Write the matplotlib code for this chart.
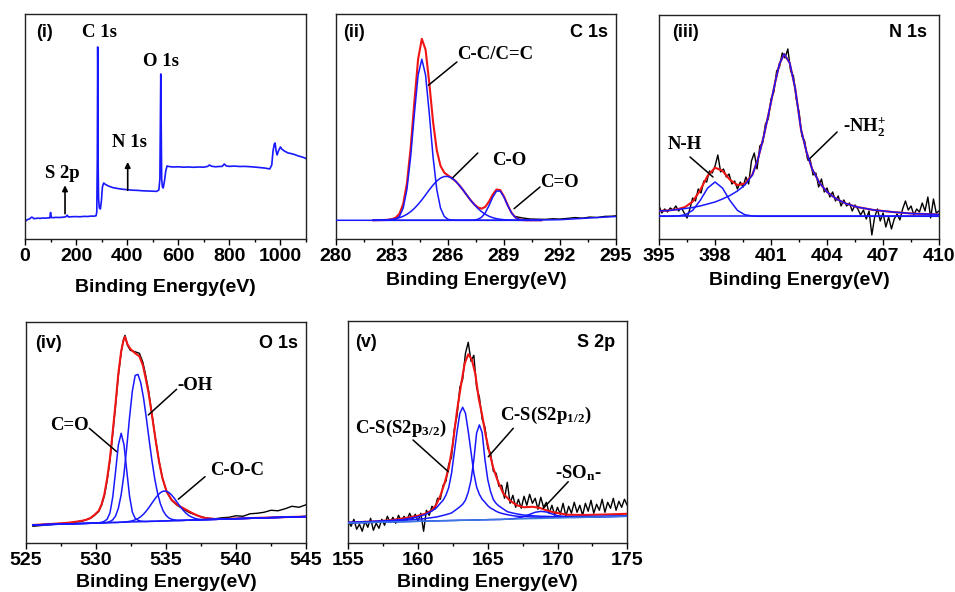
"""
XPS spectra of the sample: wide survey scan and the C 1s, N 1s, O 1s and
S 2p high-resolution regions with their fitted components.
Intensities are arbitrary units read off the published figure.
"""
import matplotlib
matplotlib.use("Agg")
import matplotlib.pyplot as plt
import numpy as np
from matplotlib.ticker import AutoMinorLocator

plt.rcParams["font.family"] = ["Liberation Sans", "DejaVu Sans"]
plt.rcParams["font.weight"] = "bold"
plt.rcParams["axes.labelweight"] = "bold"
plt.rcParams["mathtext.fontset"] = "custom"
plt.rcParams["mathtext.rm"] = "Liberation Serif:bold"
plt.rcParams["mathtext.it"] = "Liberation Serif:bold"
plt.rcParams["mathtext.bf"] = "Liberation Serif:bold"
plt.rcParams["mathtext.default"] = "rm"

# ---------------------------------------------------------------------------
# (i) survey
# ---------------------------------------------------------------------------
SURVEY_EV = [0, 5, 10, 15, 20, 25, 30, 35, 40, 50,
             60, 70, 80, 90, 97, 100, 103, 110, 120, 135,
             150, 160, 165, 170, 185, 200, 215, 230, 245, 260,
             270, 278, 281, 283, 284.5, 285.5, 286.5, 288, 291, 295,
             299, 303, 308, 315, 330, 345, 360, 380, 400, 420,
             440, 460, 480, 500, 515, 524, 528, 530, 531.5, 533,
             535, 538, 541, 546, 551, 556, 565, 580, 600, 620,
             640, 660, 680, 700, 715, 722, 730, 745, 760, 772,
             780, 788, 800, 820, 840, 860, 880, 900, 920, 940,
             958, 966, 971, 976, 979, 983, 987, 992, 1000, 1005,
             1015, 1030, 1040, 1055, 1070, 1085, 1100]
SURVEY_CPS = [17.5, 18.5, 19.5, 19.8, 20.5, 21.8, 21.5, 20.3, 20.5, 20.8,
              20.6, 21.0, 20.8, 21.2, 21.0, 26.5, 21.5, 21.3, 21.6, 21.5,
              21.8, 22.2, 23.8, 22.0, 22.3, 22.4, 22.2, 22.6, 22.5, 22.9,
              22.8, 23.2, 27.0, 80.0, 192.0, 150.0, 70.0, 40.0, 31.0, 30.0,
              38.0, 52.0, 56.0, 54.5, 52.6, 51.3, 50.6, 49.8, 49.3, 48.8,
              48.6, 48.2, 48.0, 47.8, 47.6, 49.0, 60.0, 120.0, 165.0, 120.0,
              60.0, 52.0, 51.0, 58.0, 68.0, 73.0, 72.4, 72.0, 72.2, 71.8,
              72.0, 71.7, 72.0, 71.8, 72.6, 74.0, 72.8, 72.2, 72.5, 72.6,
              75.0, 73.0, 72.6, 72.9, 72.5, 72.6, 72.3, 71.9, 71.4, 70.9,
              70.0, 74.0, 88.0, 95.0, 96.0, 88.0, 84.0, 88.0, 92.0, 90.0,
              88.0, 86.0, 85.5, 84.5, 83.0, 82.0, 80.5]
SURVEY_TICKS = [0, 200, 400, 600, 800, 1000]

# ---------------------------------------------------------------------------
# (ii) C 1s
# ---------------------------------------------------------------------------
C1S_BASE = 18.7
C1S_BASE_EV = [280.0, 290.0, 292.0, 295.0]
C1S_BASE_CPS = [18.7, 18.7, 19.3, 22.5]
C1S_EV = [282.0, 282.2, 282.4, 282.6, 282.8, 283.0, 283.2, 283.4, 283.6, 283.8,
          284.0, 284.2, 284.4, 284.6, 284.8, 285.0, 285.2, 285.4, 285.6, 285.8,
          286.0, 286.2, 286.4, 286.6, 286.8, 287.0, 287.2, 287.4, 287.6, 287.8,
          288.0, 288.2, 288.4, 288.6, 288.8, 289.0, 289.2, 289.4, 289.6, 289.8,
          290.0, 290.2, 290.4, 290.6, 290.8, 291.0]
C1S_CC = [0, 0, 0, 0, 0, 0.2, 1.0, 3.9, 12.2, 30.8,
          63.5, 106.5, 145.2, 161.0, 145.2, 106.5, 63.5, 30.8, 12.2, 3.9,
          1.0, 0.2, 0, 0, 0, 0, 0, 0, 0, 0,
          0, 0, 0, 0, 0, 0, 0, 0, 0, 0,
          0, 0, 0, 0, 0, 0]
C1S_CO = [0.0, 0.1, 0.2, 0.3, 0.6, 1.0, 1.6, 2.6, 4.0, 6.0,
          8.6, 11.9, 15.9, 20.4, 25.4, 30.5, 35.2, 39.3, 42.2, 43.8,
          43.8, 42.2, 39.3, 35.2, 30.5, 25.4, 20.4, 15.9, 11.9, 8.6,
          6.0, 4.0, 2.6, 1.6, 1.0, 0.6, 0.3, 0.2, 0.1, 0,
          0, 0, 0, 0, 0, 0]
C1S_CDO = [0, 0, 0, 0, 0, 0, 0, 0, 0, 0,
           0, 0, 0, 0, 0, 0, 0, 0, 0, 0,
           0, 0, 0, 0, 0, 0, 0, 0.2, 1.0, 3.0,
           7.5, 14.8, 23.2, 29.2, 29.2, 23.2, 14.8, 7.5, 3.0, 1.0,
           0.2, 0, 0, 0, 0, 0]
C1S_RAW_EV = [289.6, 290.0, 290.4, 290.8, 291.2, 291.6, 292.0, 292.4, 292.8, 293.2,
              293.6, 294.0, 294.4, 294.8, 295.0]
C1S_RAW_CPS = [22.5, 21.0, 20.0, 19.8, 19.6, 20.2, 19.9, 20.6, 21.4, 20.8,
               21.9, 21.5, 22.6, 22.8, 23.2]
C1S_TICKS = [280, 283, 286, 289, 292, 295]

# ---------------------------------------------------------------------------
# (iii) N 1s
# ---------------------------------------------------------------------------
N1S_BASE = 22.7
N1S_EV = [395.0, 395.5, 396.0, 396.4, 396.8, 397.2, 397.6, 398.0, 398.4, 398.8,
          399.2, 399.6, 400.0, 400.3, 400.6, 400.9, 401.2, 401.45, 401.7, 402.0,
          402.3, 402.6, 402.9, 403.2, 403.6, 404.0, 404.5, 405.0, 405.6, 406.5,
          407.5, 408.5, 410.0]
N1S_NH2 = [5.3, 5.8, 6.8, 7.8, 8.8, 10.3, 12.3, 14.3, 17.3, 20.8,
           25.3, 31.3, 41.3, 57.3, 79.3, 105.3, 132.3, 152.3, 162.3, 153.3,
           127.3, 87.3, 64.3, 47.3, 33.3, 24.3, 17.3, 12.8, 9.3, 6.3,
           4.3, 2.8, 1.8]
N1S_NH = [0, 0, 0.3, 1.5, 5.9, 15.7, 28.2, 34.3, 28.2, 15.7,
          5.9, 1.5, 0.3, 0, 0, 0, 0, 0, 0, 0,
          0, 0, 0, 0, 0, 0, 0, 0, 0, 0,
          0, 0, 0]
N1S_RAW_START, N1S_RAW_STEP = 395.0, 0.15
N1S_RAW_CPS = [33, 26, 30, 27, 31, 29, 33, 28, 31, 26,
               21, 30, 41, 38, 50, 46, 58, 57, 68, 66,
               73, 84, 67, 70, 62, 65, 55, 58, 50, 57,
               52, 62, 55, 78, 86, 70, 93, 96, 115, 120,
               140, 147, 168, 172, 186, 181, 190, 168, 163, 140,
               127, 103, 98, 80, 79, 64, 66, 52, 60, 47,
               51, 42, 47, 38, 43, 33, 39, 33, 36, 28,
               34, 30, 24, 29, 20, 28, 4, 22, 30, 18,
               26, 12, 22, 10, 20, 25, 19, 30, 38, 29,
               33, 24, 30, 27, 36, 28, 42, 21, 40, 26,
               28]
N1S_TICKS = [395, 398, 401, 404, 407, 410]

# ---------------------------------------------------------------------------
# (iv) O 1s
# ---------------------------------------------------------------------------
O1S_EV = [525.5, 530.0, 530.2, 530.4, 530.6, 530.8, 531.0, 531.2, 531.4, 531.6,
          531.8, 532.0, 532.2, 532.4, 532.6, 532.8, 533.0, 533.2, 533.4, 533.6,
          533.8, 534.0, 534.2, 534.4, 534.6, 534.8, 535.0, 535.2, 535.4, 535.6,
          535.8, 536.0, 536.2, 536.4, 536.6, 536.8, 537.0, 537.2, 537.4, 537.6,
          537.8, 538.0, 538.2, 545.0]
O1S_BASE = [18.3, 20.2, 20.3, 20.4, 20.5, 20.6, 20.7, 20.8, 20.8, 20.9,
            21.0, 21.1, 21.2, 21.3, 21.4, 21.4, 21.5, 21.6, 21.7, 21.8,
            21.9, 22.0, 22.0, 22.1, 22.2, 22.3, 22.4, 22.5, 22.6, 22.7,
            22.7, 22.8, 22.9, 23.0, 23.1, 23.2, 23.3, 23.3, 23.4, 23.5,
            23.6, 23.7, 23.8, 26.7]
O1S_CDO = [0, 0, 0.2, 0.6, 1.5, 3.5, 9.7, 25.6, 51.1, 77.5,
           89.0, 77.5, 51.1, 25.6, 9.7, 3.5, 1.5, 0.6, 0.2, 0,
           0, 0, 0, 0, 0, 0, 0, 0, 0, 0,
           0, 0, 0, 0, 0, 0, 0, 0, 0, 0,
           0, 0, 0, 0]
O1S_OH = [0, 0, 0, 0, 0.1, 0.3, 1.0, 2.7, 6.5, 14.2,
          27.7, 48.2, 75.2, 104.9, 131.1, 146.4, 147.4, 138.9, 123.3, 103.1,
          81.3, 60.4, 42.3, 27.9, 17.3, 10.1, 5.6, 2.9, 1.4, 0.7,
          0.3, 0.1, 0, 0, 0, 0, 0, 0, 0, 0,
          0, 0, 0, 0]
O1S_COC = [0, 0, 0, 0, 0, 0, 0, 0, 0, 0,
           0.1, 0.2, 0.3, 0.6, 1.1, 2.0, 3.2, 5.0, 7.5, 10.6,
           14.2, 18.2, 22.2, 25.7, 28.4, 29.8, 29.8, 28.4, 25.7, 22.2,
           18.2, 14.2, 10.6, 7.5, 5.0, 3.2, 2.0, 1.1, 0.6, 0.3,
           0.2, 0.1, 0, 0]
O1S_FIT_EV = [525.5, 527.0, 528.0, 528.6, 529.0, 529.3, 529.6, 529.9, 530.2, 530.4,
              530.6, 530.8, 531.0, 531.2, 531.4, 531.6, 531.8, 531.95, 532.07, 532.25,
              532.45, 532.8, 533.1, 533.35, 533.55, 533.75, 534.0, 534.25, 534.5, 534.75,
              535.05, 535.4, 535.8, 536.25, 536.7, 537.2, 537.7, 538.5, 539.5, 541.0,
              543.0, 545.0]
O1S_FIT_CPS = [18.3, 19.5, 20.5, 21.6, 22.5, 23.5, 25.2, 28.5, 32.5, 39.0,
               49.0, 65.0, 85.0, 112.0, 140.0, 170.0, 192.0, 202.0, 206.6, 199.0,
               194.5, 190.0, 187.0, 178.0, 165.0, 151.0, 128.0, 104.0, 82.0, 65.0,
               51.6, 43.5, 38.5, 35.0, 31.5, 28.0, 25.5, 24.2, 24.5, 25.2,
               26.0, 26.7]
O1S_RAW_EV = [525.5, 527.0, 528.0, 528.6, 529.0, 529.3, 529.6, 529.9, 530.2, 530.4,
              530.6, 530.8, 531.0, 531.2, 531.4, 531.6, 531.8, 531.95, 532.07, 532.25,
              532.45, 532.8, 533.1, 533.35, 533.55, 533.75, 534.0, 534.25, 534.5, 534.75,
              535.05, 535.4, 535.8, 536.25, 536.7, 537.0, 537.5, 538.0, 538.5, 539.0,
              539.5, 540.0, 540.5, 541.0, 541.5, 542.0, 542.5, 543.0, 543.5, 544.0,
              544.5, 545.0]
O1S_RAW_CPS = [17.0, 19.0, 20.0, 21.5, 22.0, 23.5, 25.0, 28.0, 32.0, 38.0,
               47.5, 63.0, 83.0, 110.0, 138.0, 168.0, 191.0, 203.0, 208.0, 198.0,
               193.0, 191.5, 190.0, 181.0, 168.0, 153.0, 129.0, 104.5, 82.5, 65.0,
               51.5, 43.0, 38.0, 34.0, 30.5, 29.0, 26.5, 25.0, 24.5, 25.5,
               26.0, 27.5, 27.0, 29.5, 30.0, 31.0, 33.0, 32.5, 34.5, 37.0,
               36.0, 38.5]
O1S_TICKS = [525, 530, 535, 540, 545]

# ---------------------------------------------------------------------------
# (v) S 2p
# ---------------------------------------------------------------------------
S2P_EV = [155.0, 156.0, 157.0, 158.0, 159.0, 160.0, 160.5, 161.0, 161.3,
          161.6, 161.8, 162.0, 162.2, 162.4, 162.6, 162.8, 163.0, 163.2, 163.4,
          163.6, 163.8, 164.0, 164.2, 164.4, 164.6, 164.8, 165.0, 165.2, 165.4,
          165.6, 165.8, 166.0,
          166.4, 166.8, 167.2, 167.6, 168.0, 168.4, 168.8, 169.2, 169.6, 170.0,
          171.0, 172.0, 173.0, 174.0, 175.0]
S2P_BASE = [20.3, 20.6, 21.0, 21.3, 21.6, 22.0, 22.1, 22.3, 22.4,
            22.5, 22.6, 22.6, 22.7, 22.8, 22.8, 22.9, 23.0, 23.0, 23.1,
            23.1, 23.2, 23.3, 23.3, 23.4, 23.5, 23.5, 23.6, 23.7, 23.7,
            23.8, 23.8, 23.9,
            24.1, 24.2, 24.4, 24.5, 24.7, 24.8, 24.9, 25.1, 25.2, 25.3,
            25.7, 26.0, 26.3, 26.7, 27.0]
S2P_32 = [0.5, 0.7, 1.0, 1.4, 2.3, 4.5, 6.5, 10.0, 12.8,
          17.5, 20.5, 25.5, 33.0, 47.0, 68.0, 89.0, 107.0, 113.0, 107.0,
          89.0, 68.0, 47.0, 33.0, 25.5, 20.5, 17.5, 14.0, 11.5, 10.0,
          8.2, 7.0, 6.0,
          4.5, 3.4, 2.5, 2.2, 1.7, 1.4, 1.2, 1.0, 0.9, 0.8,
          0.5, 0.4, 0.3, 0.2, 0.2]
S2P_12 = [0.5, 0.6, 0.8, 1.0, 1.4, 2.1, 2.6, 3.4, 3.8,
          4.7, 5.3, 6.0, 6.7, 7.5, 9.5, 11.5, 13.5, 16.0, 20.0,
          28.0, 40.0, 60.0, 87.0, 95.0, 87.0, 60.0, 40.0, 28.0, 20.0,
          16.0, 13.5, 11.5,
          7.5, 6.0, 4.7, 3.7, 3.1, 2.5, 2.1, 1.8, 1.5, 1.3,
          1.0, 0.8, 0.6, 0.5, 0.4]
S2P_SON = [0, 0, 0, 0, 0, 0, 0, 0, 0,
           0, 0, 0, 0, 0, 0, 0, 0, 0, 0,
           0, 0, 0, 0, 0, 0, 0, 0, 0, 0,
           0, 0, 0,
           0, 0.3, 0.9, 2.3, 4.2, 6.2, 7.0, 6.2, 4.2, 2.3,
           0.2, 0, 0, 0, 0]
S2P_FIT_EV = [155.0, 156.0, 157.0, 158.0, 159.0, 160.0, 160.5, 161.0, 161.3, 161.6,
              161.9, 162.2, 162.5, 162.8, 163.1, 163.35, 163.6, 163.85, 164.1, 164.35,
              164.6, 164.85, 165.1, 165.4, 165.7, 166.1, 166.6, 167.1, 167.6, 168.2,
              168.7, 169.2, 169.7, 170.7, 172.0, 173.5, 175.0]
S2P_FIT_CPS = [20.6, 21.3, 22.0, 23.0, 25.0, 27.5, 29.5, 33.0, 38.5, 47.5,
               60.0, 75.0, 100.0, 133.0, 160.0, 180.0, 189.0, 184.0, 170.0, 145.0,
               128.0, 108.0, 92.0, 75.0, 63.0, 50.0, 42.5, 38.0, 36.0, 36.5,
               35.5, 33.0, 31.0, 28.5, 28.3, 28.8, 29.5]
S2P_RAW_START, S2P_RAW_STEP = 155.0, 0.2
S2P_RAW_CPS = [22, 17, 24, 14, 19, 12, 22, 16, 25, 13,
               20, 15, 24, 18, 27, 21, 26, 20, 28, 22,
               27, 23, 30, 24, 29, 22, 30, 12, 33, 28,
               37, 34, 45, 44, 58, 62, 79, 86, 114, 128,
               156, 164, 190, 201, 182, 188, 156, 146, 124, 116,
               95, 90, 72, 70, 57, 58, 45, 61, 40, 48,
               36, 44, 35, 47, 38, 49, 40, 45, 34, 46,
               36, 41, 30, 38, 28, 36, 29, 40, 27, 37,
               30, 41, 31, 38, 28, 40, 32, 43, 30, 39,
               33, 44, 31, 41, 35, 45, 33, 42, 36, 44,
               38]
S2P_TICKS = [155, 160, 165, 170, 175]

BLUE = "#1818ff"
RED = "#f01414"
SERIF = ["Liberation Serif", "DejaVu Serif"]


# ---------------------------------------------------------------------------
# helpers
# ---------------------------------------------------------------------------

def style_panel(ax, xlim, ticks, ymax, labelpad):
    ax.set_xlim(*xlim)
    ax.set_ylim(0, ymax)
    ax.set_xticks(ticks)
    ax.xaxis.set_minor_locator(AutoMinorLocator(2))
    ax.set_yticks([])
    ax.tick_params(axis="x", which="major", direction="out", length=4,
                   width=1, labelsize=14, pad=2.5)
    ax.tick_params(axis="x", which="minor", direction="out", length=2.5, width=1)
    ax.set_xlabel("Binding Energy(eV)", fontsize=14, labelpad=labelpad)
    for spine in ax.spines.values():
        spine.set_linewidth(1.0)
        spine.set_color("#222222")


def tag(ax, fx, fy, s, ha="left"):
    ax.text(fx, fy, s, transform=ax.transAxes, fontsize=13, ha=ha, va="center")


def label(ax, fx, fy, s):
    ax.text(fx, fy, s, transform=ax.transAxes, fontsize=13.5, family=SERIF,
            ha="left", va="center")


def leader(ax, start, end):
    ax.annotate("", xy=end, xytext=start,
                arrowprops=dict(arrowstyle="-", lw=1.1, color="black",
                                shrinkA=0, shrinkB=0))


def add(base, *parts):
    return np.asarray(base, dtype=float) + sum(np.asarray(p, dtype=float) for p in parts)


# ---------------------------------------------------------------------------
# figure
# ---------------------------------------------------------------------------

def main() -> None:
    fig = plt.figure(figsize=(9.55, 5.92), dpi=100)

    # ── (i) survey ──────────────────────────────────────────────────────────
    ax = fig.add_axes([0.0262, 0.5963, 0.2942, 0.3801])
    ax.plot(SURVEY_EV, SURVEY_CPS, color=BLUE, lw=1.2)
    style_panel(ax, (0, 1100), SURVEY_TICKS, 225, 10)
    tag(ax, 0.039, 0.916, "(i)")
    label(ax, 0.203, 0.916, "C 1s")
    label(ax, 0.420, 0.787, "O 1s")
    label(ax, 0.310, 0.427, "N 1s")
    label(ax, 0.071, 0.293, "S 2p")
    for x, tail, head in [(156.6, 25.3, 53.7), (402.0, 48.7, 77.0)]:
        ax.annotate("", xy=(x, head), xytext=(x, tail),
                    arrowprops=dict(arrowstyle="-|>", lw=1.2, color="black",
                                    mutation_scale=8, shrinkA=0, shrinkB=0))

    # ── (ii) C 1s ───────────────────────────────────────────────────────────
    ax = fig.add_axes([0.3518, 0.5963, 0.2932, 0.3801])
    # envelope = baseline + sum of components
    base = np.full(len(C1S_EV), C1S_BASE)
    ax.plot(C1S_RAW_EV, C1S_RAW_CPS, color="black", lw=1.0, zorder=2)
    ax.plot(C1S_EV, add(base, C1S_CC, C1S_CO, C1S_CDO), color=RED, lw=1.5, zorder=3)
    for comp in (C1S_CC, C1S_CO, C1S_CDO):
        ax.plot(C1S_EV, add(base, comp), color=BLUE, lw=1.1, zorder=4)
    ax.plot(C1S_BASE_EV, C1S_BASE_CPS, color=BLUE, lw=1.1, zorder=4)
    style_panel(ax, (280, 295), C1S_TICKS, 225, 5)
    tag(ax, 0.025, 0.916, "(ii)")
    tag(ax, 0.971, 0.916, "C 1s", ha="right")
    label(ax, 0.432, 0.818, "C-C/C=C")
    label(ax, 0.557, 0.351, "C-O")
    label(ax, 0.729, 0.253, "C=O")
    leader(ax, (286.48, 177.0), (284.95, 153.7))
    leader(ax, (287.6, 86.0), (286.2, 60.3))
    leader(ax, (290.93, 52.0), (289.54, 30.3))

    # ── (iii) N 1s ──────────────────────────────────────────────────────────
    ax = fig.add_axes([0.6901, 0.5963, 0.2932, 0.3784])
    raw_ev = N1S_RAW_START + N1S_RAW_STEP * np.arange(len(N1S_RAW_CPS))
    base = np.full(len(N1S_EV), N1S_BASE)
    ax.plot(raw_ev, N1S_RAW_CPS, color="black", lw=1.0, zorder=2)
    ax.plot(N1S_EV, add(base, N1S_NH, N1S_NH2), color=RED, lw=1.5, zorder=3)
    ax.plot(N1S_EV, add(base, N1S_NH), color=BLUE, lw=1.1, zorder=4)
    ax.plot(N1S_EV, add(base, N1S_NH2), color=BLUE, lw=1.1, zorder=4)
    ax.plot([N1S_EV[0], N1S_EV[-1]], [N1S_BASE, N1S_BASE], color=BLUE, lw=1.1, zorder=4)
    style_panel(ax, (395, 410), N1S_TICKS, 224, 5)
    tag(ax, 0.046, 0.920, "(iii)")
    tag(ax, 0.957, 0.920, "N 1s", ha="right")
    label(ax, 0.032, 0.420, "N-H")
    label(ax, 0.657, 0.500, r"-NH$_{2}^{+}$")
    leader(ax, (396.66, 82.0), (397.89, 62.0))
    leader(ax, (404.54, 107.0), (402.98, 78.7))

    # ── (iv) O 1s ───────────────────────────────────────────────────────────
    ax = fig.add_axes([0.0272, 0.0823, 0.2932, 0.3738])
    ax.plot(O1S_RAW_EV, O1S_RAW_CPS, color="black", lw=1.0, zorder=2)
    ax.plot(O1S_FIT_EV, O1S_FIT_CPS, color=RED, lw=1.5, zorder=3)
    for comp in (O1S_CDO, O1S_OH, O1S_COC):
        ax.plot(O1S_EV, add(O1S_BASE, comp), color=BLUE, lw=1.1, zorder=4)
    ax.plot(O1S_EV, O1S_BASE, color=BLUE, lw=1.1, zorder=4)
    style_panel(ax, (525, 545), O1S_TICKS, 221.3, 3.5)
    tag(ax, 0.032, 0.905, "(iv)")
    tag(ax, 0.971, 0.905, "O 1s", ha="right")
    label(ax, 0.086, 0.530, "C=O")
    label(ax, 0.539, 0.715, "-OH")
    label(ax, 0.657, 0.331, "C-O-C")
    leader(ax, (529.52, 115.0), (531.48, 91.6))
    leader(ax, (535.76, 154.0), (533.74, 128.3))
    leader(ax, (537.79, 66.6), (535.88, 44.0))

    # ── (v) S 2p ────────────────────────────────────────────────────────────
    ax = fig.add_axes([0.3647, 0.0823, 0.2921, 0.3760])
    raw_ev = S2P_RAW_START + S2P_RAW_STEP * np.arange(len(S2P_RAW_CPS))
    ax.plot(raw_ev, S2P_RAW_CPS, color="black", lw=1.0, zorder=2)
    ax.plot(S2P_FIT_EV, S2P_FIT_CPS, color=RED, lw=1.5, zorder=3)
    for comp in (S2P_32, S2P_12, S2P_SON):
        ax.plot(S2P_EV, add(S2P_BASE, comp), color=BLUE, lw=1.1, zorder=4)
    ax.plot(S2P_EV, S2P_BASE, color="#3a78e0", lw=1.1, zorder=4)
    style_panel(ax, (155, 175), S2P_TICKS, 222.6, 3.5)
    tag(ax, 0.024, 0.904, "(v)")
    tag(ax, 0.956, 0.904, "S 2p", ha="right")
    label(ax, 0.024, 0.518, r"C-S(S2p$_{3/2}$)")
    label(ax, 0.543, 0.576, r"C-S(S2p$_{1/2}$)")
    label(ax, 0.740, 0.316, r"-SO$_{n}$-")
    leader(ax, (159.64, 103.3), (162.17, 71.6))
    leader(ax, (166.83, 115.0), (165.04, 86.6))
    leader(ax, (170.77, 61.6), (168.98, 35.0))

    fig.savefig("out.png", dpi=100)
    plt.close(fig)


if __name__ == "__main__":
    main()
